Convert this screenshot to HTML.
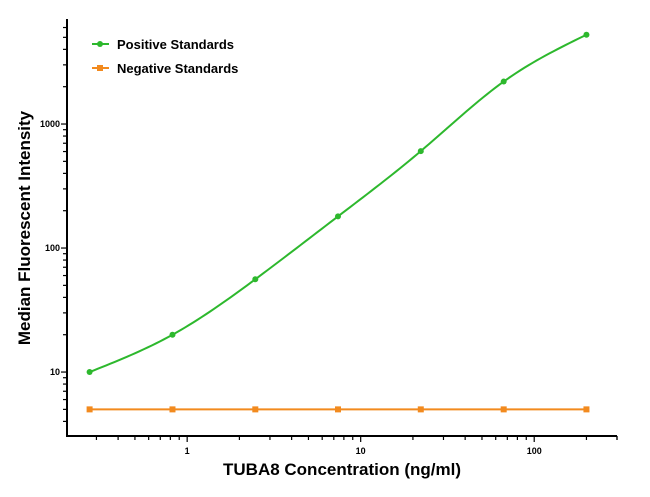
<!DOCTYPE html>
<html><head><meta charset="utf-8"><style>
body{margin:0;background:#fff;width:650px;height:492px;overflow:hidden}
svg{font-family:"Liberation Sans",Arial,sans-serif}
</style></head><body>
<svg id="c" width="650" height="492"></svg>
<script>
const xValues=[0.274,0.823,2.47,7.4,22.2,66.7,200];
const positiveValues=[10,20,56,180,605,2200,5250];
const negativeValues=[5,5,5,5,5,5,5];
const xTickLabels=["1","10","100"];
const yTickLabels=["10","100","1000"];
const NS="http://www.w3.org/2000/svg";
const svg=document.getElementById('c');
const X0=67,X1=617,Y0=436,Y1=20;
const xmin=Math.log10(0.203),xmax=Math.log10(300);
const ymin=Math.log10(3.05),ymax=Math.log10(6900);
function sx(v){return X0+(Math.log10(v)-xmin)/(xmax-xmin)*(X1-X0);}
function sy(v){return Y0-(Math.log10(v)-ymin)/(ymax-ymin)*(Y0-Y1);}
function mk(t,a,p){const e=document.createElementNS(NS,t);for(const k in a)e.setAttribute(k,a[k]);(p||svg).appendChild(e);return e;}
let ax=mk('g',{});
mk('line',{x1:X0,y1:Y1-1,x2:X0,y2:Y0+1,stroke:'#000','stroke-width':2},ax);
mk('line',{x1:X0-1,y1:Y0,x2:X1,y2:Y0,stroke:'#000','stroke-width':2},ax);
for(let d=-1;d<=2;d++)for(let m=1;m<10;m++){const v=m*Math.pow(10,d);if(v<0.203||v>300)continue;const x=sx(v);
 mk('line',{x1:x,y1:Y0,x2:x,y2:Y0+(m==1?6:4),stroke:'#000','stroke-width':1.2},ax);}
mk('line',{x1:X1,y1:Y0,x2:X1,y2:Y0+4,stroke:'#000','stroke-width':1.2},ax);
for(let d=0;d<=3;d++)for(let m=1;m<10;m++){const v=m*Math.pow(10,d);if(v<3.05||v>6900)continue;const y=sy(v);
 mk('line',{x1:X0,y1:y,x2:X0-(m==1?6:4),y2:y,stroke:'#000','stroke-width':1.2},ax);}
[1,10,100].forEach((v,i)=>{const t=mk('text',{x:sx(v),y:Y0+18,'font-size':9,'font-weight':'bold','text-anchor':'middle'},ax);t.textContent=xTickLabels[i];
 });
[10,100,1000].forEach((v,i)=>{const t=mk('text',{x:X0-7,y:sy(v)+3,'font-size':9,'font-weight':'bold','text-anchor':'end'},ax);t.textContent=yTickLabels[i];
 });
let xt=mk('text',{x:342,y:475,'font-size':17,'font-weight':'bold','text-anchor':'middle'});xt.textContent='TUBA8 Concentration (ng/ml)';

let yt=mk('text',{x:0,y:0,'font-size':17,'font-weight':'bold','text-anchor':'middle',transform:'translate(30,228) rotate(-90)'});yt.textContent='Median Fluorescent Intensity';

// natural cubic spline in pixel (log) space
function curve(xs,ys){const x=xs.map(sx),y=ys.map(sy),n=x.length;
 const h=[],al=[0],l=[1],mu=[0],z=[0],c=new Array(n).fill(0),b=[],d=[];
 for(let i=0;i<n-1;i++)h.push(x[i+1]-x[i]);
 for(let i=1;i<n-1;i++)al.push(3/h[i]*(y[i+1]-y[i])-3/h[i-1]*(y[i]-y[i-1]));
 for(let i=1;i<n-1;i++){l[i]=2*(x[i+1]-x[i-1])-h[i-1]*mu[i-1];mu[i]=h[i]/l[i];z[i]=(al[i]-h[i-1]*z[i-1])/l[i];}
 for(let j=n-2;j>=0;j--){c[j]=(j>0?z[j]-mu[j]*c[j+1]:0);if(j==0)c[0]=0;b[j]=(y[j+1]-y[j])/h[j]-h[j]*(c[j+1]+2*c[j])/3;d[j]=(c[j+1]-c[j])/(3*h[j]);}
 let s='M'+x[0]+','+y[0];
 for(let i=0;i<n-1;i++)for(let k=1;k<=20;k++){const t=h[i]*k/20;s+=' L'+(x[i]+t).toFixed(2)+','+(y[i]+b[i]*t+c[i]*t*t+d[i]*t*t*t).toFixed(2);}
 return s;}
const G='#2db82d',O='#f28a1e';
let pl=mk('path',{d:curve(xValues,positiveValues),fill:'none',stroke:G,'stroke-width':2});

let nl=mk('path',{d:curve(xValues,negativeValues),fill:'none',stroke:O,'stroke-width':2});

xValues.forEach((x,i)=>{let c=mk('circle',{cx:sx(x),cy:sy(positiveValues[i]),r:3,fill:G});
 
 let r=mk('rect',{x:sx(x)-3,y:sy(negativeValues[i])-3,width:6,height:6,fill:O});
 });
let lg=mk('g',{});
mk('line',{x1:92,y1:44,x2:109,y2:44,stroke:G,'stroke-width':2},lg);mk('circle',{cx:100,cy:44,r:3,fill:G},lg);
let t1=mk('text',{x:117,y:49,'font-size':13,'font-weight':'bold'},lg);t1.textContent='Positive Standards';
mk('line',{x1:92,y1:68,x2:109,y2:68,stroke:O,'stroke-width':2},lg);mk('rect',{x:97,y:65,width:6,height:6,fill:O},lg);
let t2=mk('text',{x:117,y:73,'font-size':13,'font-weight':'bold'},lg);t2.textContent='Negative Standards';
</script>
</body></html>
